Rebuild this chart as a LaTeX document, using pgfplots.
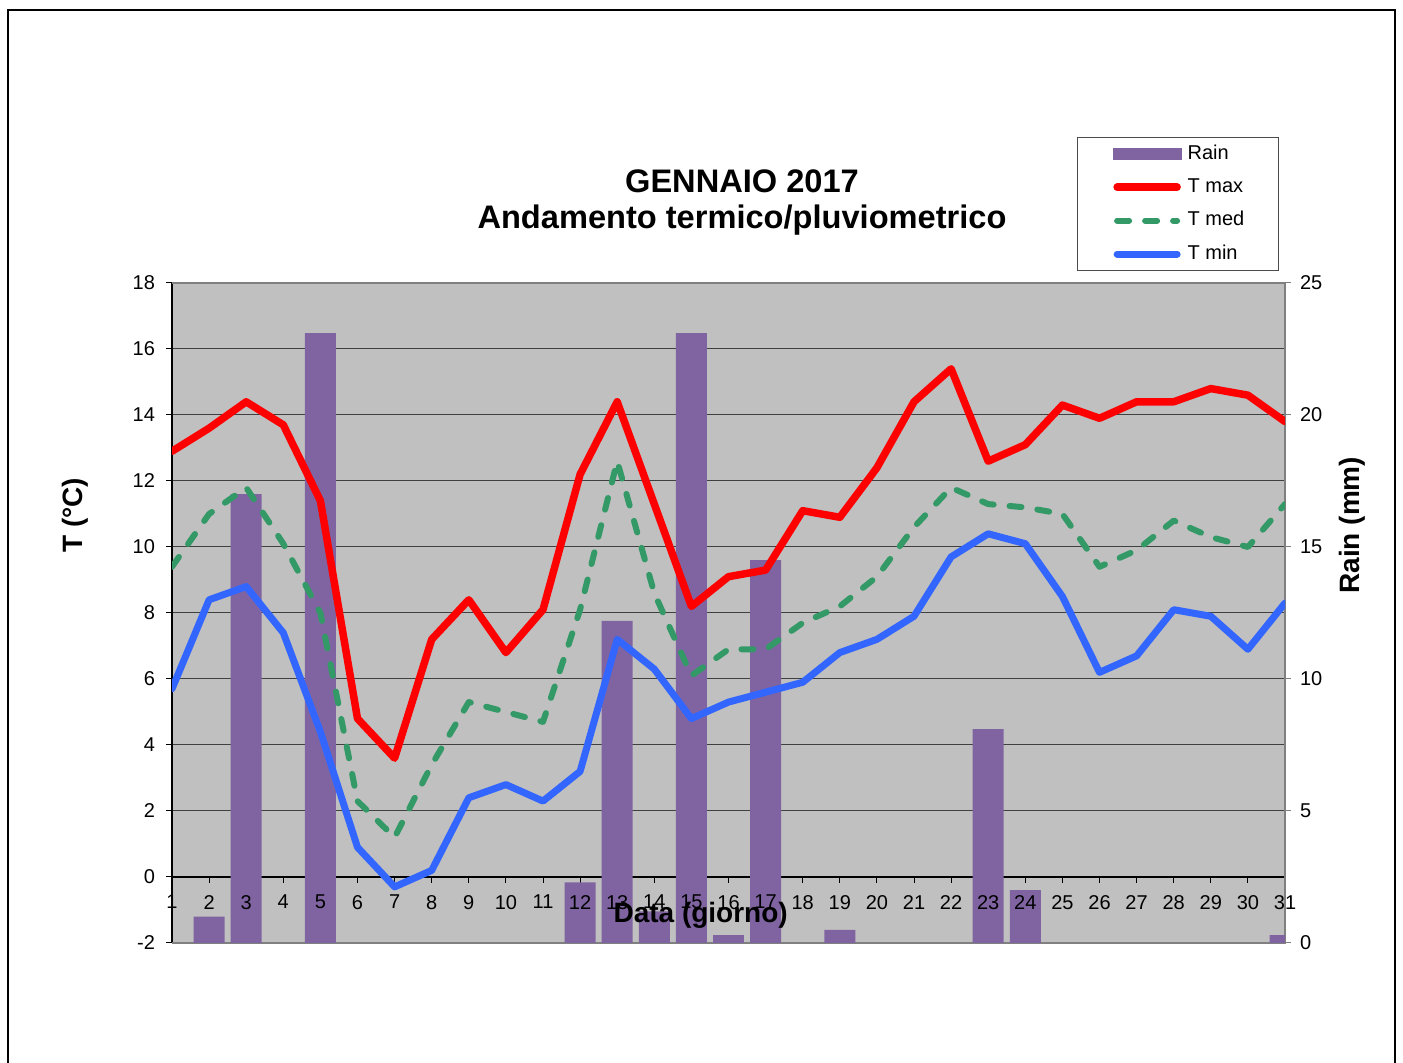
\documentclass[border=0pt]{standalone}
\usepackage{fontspec}
\setmainfont{Liberation Sans}
\usepackage{pgfplots}
\pgfplotsset{compat=1.18}
\definecolor{plotbg}{HTML}{C0C0C0}
\definecolor{gridc}{HTML}{404040}
\definecolor{borderc}{HTML}{808080}
\definecolor{barcol}{HTML}{8064A2}
\definecolor{tmaxc}{HTML}{FF0000}
\definecolor{tmedc}{HTML}{339966}
\definecolor{tminc}{HTML}{3366FF}
\pgfplotsset{
  common/.style={
    at={(86pt,60pt)}, anchor=south west, scale only axis,
    width=556.5pt, height=330pt, xmin=1, xmax=31,
    /pgf/number format/assume math mode=true,
    ticklabel style={font=\fontsize{10}{12}\selectfont},
    label style={font=\bfseries\fontsize{14}{16}\selectfont},
  }
}
\begin{document}
\begin{tikzpicture}
\useasboundingbox (0pt,0pt) rectangle (701.5pt,531.5pt);
\draw[black, line width=1pt] (4pt,-3pt) -- (4pt,526.5pt) -- (697.5pt,526.5pt) -- (697.5pt,-3pt);
\node[font=\bfseries\fontsize{16.3}{18}\selectfont, align=center] at (371pt,430pt) {GENNAIO 2017\\Andamento termico/pluviometrico};

% Axis A: background, grid, left axis, x axis line at 0
\begin{axis}[common, clip=false,
  ymin=-2, ymax=18,
  axis background/.style={fill=plotbg},
  axis y line*=left, axis x line*=middle,
  y axis line style={black, line width=0.75pt, -},
  x axis line style={black, line width=0.75pt, -},
  xtick={1,...,31}, xticklabels={},
  ytick={-2,0,...,18},
  ymajorgrids, grid style={gridc, line width=0.5pt},
  tick align=outside, major tick length=3pt,
  tick style={black, line width=0.5pt},
  yticklabel style={xshift=-2pt},
  ylabel={T (°C)},
  ylabel style={at={(axis description cs:-0.087,0.648)}, anchor=center},
]
\draw[borderc, line width=1.2pt] (rel axis cs:0,0) -- (rel axis cs:1,0) -- (rel axis cs:1,1) -- (rel axis cs:0,1);
\end{axis}

% Axis B: rain bars, right axis
\begin{axis}[common,
  ymin=0, ymax=25,
  axis y line*=right, axis x line=none,
  y axis line style={draw=borderc, line width=1.2pt, -},
  ytick={0,5,...,25},
  tick align=outside, major tick length=3pt,
  tick style={borderc, line width=0.5pt},
  yticklabel style={xshift=1pt},
  ylabel={Rain (mm)},
  ylabel style={at={(axis description cs:1.060,0.633)}, anchor=center},
]
\addplot[ybar, bar width=0.835, fill=barcol, draw=none] coordinates {
(2,1.0) (3,17.0) (5,23.1) (12,2.3) (13,12.2) (14,1.2) (15,23.1) (16,0.3) (17,14.5) (19,0.5) (23,8.1) (24,2.0) (31,0.3)};
\end{axis}

% Axis C: temperature lines, x tick labels, legend
\begin{axis}[common,
  ymin=-2, ymax=18,
  axis y line=none, axis x line*=middle,
  x axis line style={draw=none},
  xtick={1,...,31}, major tick length=0pt,
  xticklabel style={anchor=north, yshift=-5.5pt},
  xlabel={Data (giorno)},
  xlabel style={at={(axis description cs:0.475,0.042)}, anchor=center},
  legend style={at={(0.813,1.221)}, anchor=north west, draw=black!70, line width=0.5pt,
    fill=white, font=\fontsize{10}{12}\selectfont, inner xsep=16pt, inner ysep=2.5pt,
    row sep=5.5pt, nodes={inner sep=1pt, text height=7.2pt, text depth=2pt},
    /tikz/every odd column/.append style={column sep=2pt}},
  legend cell align=left,
  legend image code/.code={\path (0pt,0pt); \draw[#1] (2pt,0pt) -- (32pt,0pt);},
]
\addlegendimage{legend image code/.code={\path (0pt,0pt); \fill[barcol] (0pt,-2.75pt) rectangle (34pt,2.75pt);}}
\addlegendentry{Rain}
\addplot[tmaxc, line width=3.75pt, line cap=round, line join=round] coordinates {
(1,12.9) (2,13.6) (3,14.4) (4,13.7) (5,11.4) (6,4.8) (7,3.6) (8,7.2) (9,8.4) (10,6.8)
(11,8.1) (12,12.2) (13,14.4) (14,11.3) (15,8.2) (16,9.1) (17,9.3) (18,11.1) (19,10.9) (20,12.4)
(21,14.4) (22,15.4) (23,12.6) (24,13.1) (25,14.3) (26,13.9) (27,14.4) (28,14.4) (29,14.8) (30,14.6) (31,13.8)};
\addlegendentry{T max}
\addplot[tmedc, line width=3pt, line cap=round, line join=round, dash pattern=on 6pt off 8pt] coordinates {
(1,9.4) (2,11.0) (3,11.8) (4,10.1) (5,8.0) (6,2.3) (7,1.2) (8,3.4) (9,5.3) (10,5.0)
(11,4.7) (12,8.1) (13,12.6) (14,8.6) (15,6.1) (16,6.9) (17,6.9) (18,7.7) (19,8.2) (20,9.1)
(21,10.6) (22,11.8) (23,11.3) (24,11.2) (25,11.0) (26,9.4) (27,9.9) (28,10.8) (29,10.3) (30,10.0) (31,11.3)};
\addlegendentry{T med}
\addplot[tminc, line width=3.5pt, line cap=round, line join=round] coordinates {
(1,5.7) (2,8.4) (3,8.8) (4,7.4) (5,4.4) (6,0.9) (7,-0.3) (8,0.2) (9,2.4) (10,2.8)
(11,2.3) (12,3.2) (13,7.2) (14,6.3) (15,4.8) (16,5.3) (17,5.6) (18,5.9) (19,6.8) (20,7.2)
(21,7.9) (22,9.7) (23,10.4) (24,10.1) (25,8.5) (26,6.2) (27,6.7) (28,8.1) (29,7.9) (30,6.9) (31,8.3)};
\addlegendentry{T min}
\end{axis}
\end{tikzpicture}
\end{document}
